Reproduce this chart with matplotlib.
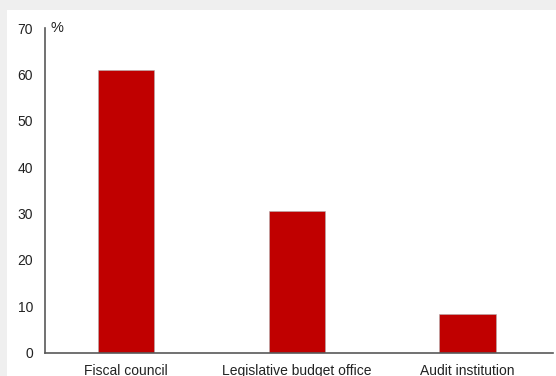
import matplotlib
matplotlib.use('Agg')
import matplotlib.pyplot as plt
from matplotlib.patches import Rectangle

categories = ['Fiscal council', 'Legislative budget office', 'Audit institution']
shares = [61, 30.5, 8.2]
y_ticks = [0, 10, 20, 30, 40, 50, 60, 70]

BAR_COLOR = '#c00000'
AXIS_COLOR = '#595959'

plt.rcParams['font.family'] = ['Liberation Sans', 'DejaVu Sans']

fig = plt.figure(figsize=(5.56, 3.76), dpi=100)
fig.patch.set_facecolor('#efefef')
# white panel behind the chart
fig.patches.append(Rectangle((7 / 556, 0), 1, 1 - 10 / 376, transform=fig.transFigure,
                             facecolor='white', edgecolor='none', zorder=-10))

ax = fig.add_axes([45 / 556, 1 - 352.5 / 376, (553 - 45) / 556, (352.5 - 28) / 376])
ax.set_facecolor('none')

x = range(len(categories))
ax.bar(x, shares, width=0.33, color=BAR_COLOR, edgecolor='#b0b0b0', linewidth=0.4)

ax.set_xlim(-0.475, 2.5)
ax.set_ylim(0, 70)
ax.set_yticks(y_ticks)
ax.set_xticks(list(x))
ax.set_xticklabels(categories)
ax.tick_params(axis='both', length=0, labelsize=10, colors='#222222')
ax.tick_params(axis='y', pad=8.5)
ax.tick_params(axis='x', pad=8)

for side in ['top', 'right']:
    ax.spines[side].set_visible(False)
for side in ['left', 'bottom']:
    ax.spines[side].set_color(AXIS_COLOR)
    ax.spines[side].set_linewidth(1.2)

ax.text(0.01, 1.0, '%', transform=ax.transAxes, fontsize=10.5, color='#222222',
        ha='left', va='center')

fig.savefig('out.png', dpi=100)
